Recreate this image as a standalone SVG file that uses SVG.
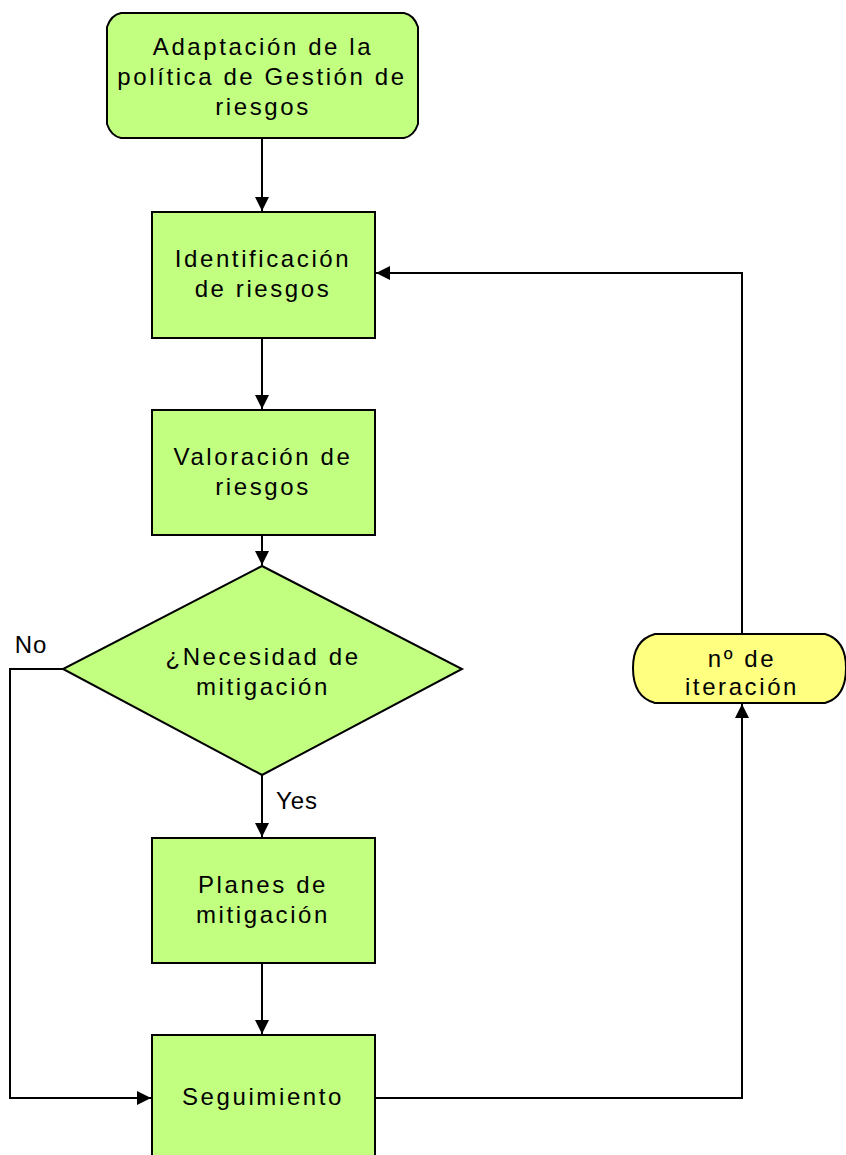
<svg xmlns="http://www.w3.org/2000/svg" width="846" height="1155" viewBox="0 0 846 1155">
  <defs>
    <marker id="arrow" viewBox="0 0 14 16" refX="14" refY="8" markerWidth="14" markerHeight="16" markerUnits="userSpaceOnUse" orient="auto">
      <path d="M0,1 L14,8 L0,15 Z" fill="#000"/>
    </marker>
    <style>
      .box { fill: #C2FF80; stroke: #000; stroke-width: 2; }
      .term { fill: #FFFF80; stroke: #000; stroke-width: 2; }
      .lbl { font-family: "Liberation Sans", Arial, sans-serif; font-size: 24px; letter-spacing: 2.6px; fill: #000; text-anchor: middle; }
      .edge { fill: none; stroke: #000; stroke-width: 2; }
    </style>
  </defs>
  <rect width="846" height="1155" fill="#fff"/>

  <!-- connectors -->
  <g id="connectors">
    <path class="edge" d="M262,138 V211" marker-end="url(#arrow)"/>
    <path class="edge" d="M262,338 V409" marker-end="url(#arrow)"/>
    <path class="edge" d="M262,535 V565" marker-end="url(#arrow)"/>
    <path class="edge" d="M262,775 V837" marker-end="url(#arrow)"/>
    <path class="edge" d="M262,963 V1034" marker-end="url(#arrow)"/>
    <path class="edge" d="M63,669 H10 V1098 H151" marker-end="url(#arrow)"/>
    <path class="edge" d="M375,1098 H742 V704" marker-end="url(#arrow)"/>
    <path class="edge" d="M742,634 V273 H376" marker-end="url(#arrow)"/>
    <text class="lbl" x="31" y="653" style="letter-spacing:1px">No</text>
    <text class="lbl" x="297" y="809" style="letter-spacing:1px">Yes</text>
  </g>

  <g id="adaptacion">
    <path class="box" d="M121,13 H404 Q414,15 418,27 V124 Q414,136 404,138 H121 Q111,136 107,124 V27 Q111,15 121,13 Z"/>
    <text class="lbl" x="263" y="55">Adaptación de la</text>
    <text class="lbl" x="262" y="85">política de Gestión de</text>
    <text class="lbl" x="263" y="115">riesgos</text>
  </g>

  <g id="identificacion">
    <rect class="box" x="152" y="212" width="223" height="126"/>
    <text class="lbl" x="263" y="267">Identificación</text>
    <text class="lbl" x="263" y="297">de riesgos</text>
  </g>

  <g id="valoracion">
    <rect class="box" x="152" y="410" width="223" height="125"/>
    <text class="lbl" x="263" y="465">Valoración de</text>
    <text class="lbl" x="263" y="495">riesgos</text>
  </g>

  <g id="necesidad">
    <path class="box" d="M262,566 L462,669 L262,775 L63,669 Z"/>
    <text class="lbl" x="263" y="665">¿Necesidad de</text>
    <text class="lbl" x="263" y="695">mitigación</text>
  </g>

  <g id="planes">
    <rect class="box" x="152" y="838" width="223" height="125"/>
    <text class="lbl" x="263" y="893">Planes de</text>
    <text class="lbl" x="263" y="923">mitigación</text>
  </g>

  <g id="seguimiento">
    <rect class="box" x="152" y="1035" width="223" height="130"/>
    <text class="lbl" x="263" y="1105">Seguimiento</text>
  </g>

  <g id="iteracion">
    <path class="term" d="M655,634 H825 Q846,640 846,668 Q846,697 825,703 H655 Q633,697 633,668 Q633,640 655,634 Z"/>
    <text class="lbl" x="742" y="667">nº de</text>
    <text class="lbl" x="742" y="695">iteración</text>
  </g>
</svg>
